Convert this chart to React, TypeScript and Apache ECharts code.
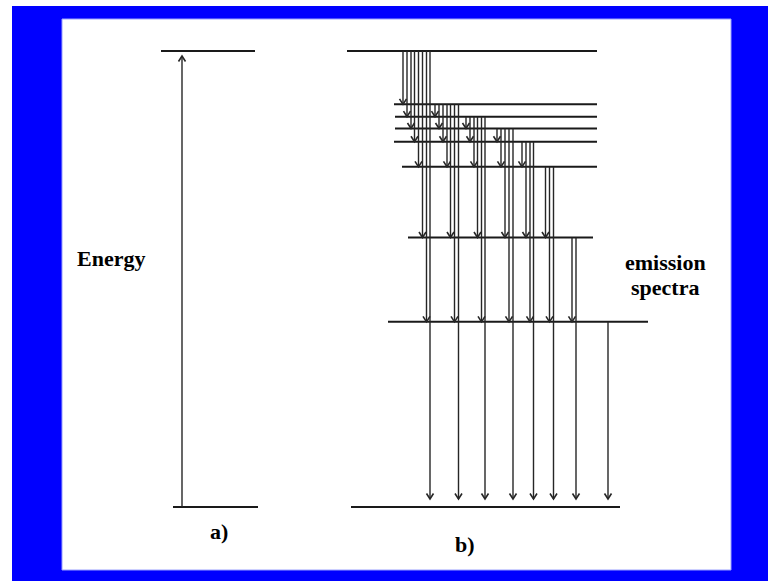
import React, { useEffect, useRef } from "react";
import * as echarts from "echarts";

// Energy levels of diagram b) (arbitrary energy units, ground = 0)
const levelEnergies = [10, 8.83, 8.56, 8.3, 8.01, 7.46, 5.91, 4.06, 0];
// Horizontal extent of each level line in b) (x position units)
const levelStartX = [347, 394, 395, 395, 394, 402, 408, 388, 351];
const levelEndX = [597, 597, 597, 597, 597, 597, 593, 648, 620];

// Diagram a): two levels and one excitation arrow
const aLevelEnergies = [10, 0];
const aLevelStartX = [161, 173];
const aLevelEndX = [255, 258];
const aArrowX = 182;

// Emission arrows: bundle i starts at level i; arrow k of it ends at level i + k + 1
const arrowX: number[][] = [
  [403, 407, 411, 414.5, 418.5, 422.5, 426.5, 430],
  [435, 439, 443, 447, 450.5, 454.5, 458.5],
  [466, 470, 474, 477.5, 481.5, 485],
  [497, 501, 505, 509, 513],
  [522, 526, 530, 533.5],
  [545.5, 549.5, 553.5],
  [572, 576],
  [608],
];

const labels = {
  energy: "Energy",
  a: "a)",
  b: "b)",
  emission: "emission",
  spectra: "spectra",
};

export default function App() {
  const ref = useRef<HTMLDivElement>(null);

  useEffect(() => {
    if (!ref.current) return;
    const chart = echarts.init(ref.current, undefined, { renderer: "svg" });

    const levelData: number[][] = [];
    levelEnergies.forEach((e, i) => levelData.push([levelStartX[i], levelEndX[i], e]));
    aLevelEnergies.forEach((e, i) => levelData.push([aLevelStartX[i], aLevelEndX[i], e]));

    const arrowData: number[][] = [];
    arrowX.forEach((bundle, i) => {
      bundle.forEach((x, k) => {
        arrowData.push([x, levelEnergies[i], levelEnergies[i + k + 1]]);
      });
    });
    arrowData.push([aArrowX, aLevelEnergies[1], aLevelEnergies[0]]);

    // text anchored at its top-left corner
    const txt = (text: string, x: number, y: number) => ({
      type: "text",
      x,
      y,
      style: {
        text,
        fill: "#000",
        fontFamily: "Liberation Serif",
        fontWeight: "bold",
        fontSize: 22,
      },
    });

    chart.setOption({
      animation: false,
      grid: { left: 0, right: 0, top: 51, bottom: 74 },
      xAxis: { type: "value", min: 0, max: 768, show: false },
      yAxis: { type: "value", min: 0, max: 10, show: false },
      graphic: [
        { type: "rect", z: -10, shape: { x: 12, y: 6, width: 756, height: 575 }, style: { fill: "#0000ff" } },
        { type: "rect", z: -9, shape: { x: 62, y: 19, width: 669, height: 551 }, style: { fill: "#ffffff", stroke: "#9aa0ff", lineWidth: 1 } },
        txt(labels.energy, 77, 247),
        txt(labels.a, 210, 520),
        txt(labels.b, 455, 533),
        txt(labels.emission, 625, 251),
        txt(labels.spectra, 631, 276),
      ],
      series: [
        {
          type: "custom",
          name: "levels",
          clip: false,
          z: 3,
          data: levelData,
          renderItem: (params: any, api: any) => {
            const p1 = api.coord([api.value(0), api.value(2)]);
            const p2 = api.coord([api.value(1), api.value(2)]);
            return {
              type: "line",
              shape: { x1: p1[0], y1: p1[1], x2: p2[0], y2: p2[1] },
              style: { stroke: "#1a1a1a", lineWidth: 2 },
            };
          },
        },
        {
          type: "custom",
          name: "transitions",
          clip: false,
          z: 4,
          data: arrowData,
          renderItem: (params: any, api: any) => {
            const x = api.value(0);
            const e1 = api.value(1);
            const e2 = api.value(2);
            const p1 = api.coord([x, e1]);
            const p2 = api.coord([x, e2]);
            const dir = p2[1] > p1[1] ? 1 : -1;
            const gap = e2 === 0 ? 8 : dir < 0 ? 5 : 0;
            const tipY = p2[1] - dir * gap;
            const hw = 3.5;
            const hl = 5.5;
            return {
              type: "group",
              children: [
                {
                  type: "line",
                  shape: { x1: p1[0], y1: p1[1], x2: p1[0], y2: tipY },
                  style: { stroke: "#262626", lineWidth: 1.4 },
                },
                {
                  type: "polyline",
                  shape: {
                    points: [
                      [p1[0] - hw, tipY - dir * hl],
                      [p1[0], tipY],
                      [p1[0] + hw, tipY - dir * hl],
                    ],
                  },
                  style: { stroke: "#262626", lineWidth: 1.6, fill: "none" },
                },
              ],
            };
          },
        },
      ],
    });

    return () => chart.dispose();
  }, []);

  return (
    <div
      ref={ref}
      style={{ position: "absolute", left: 0, top: 0, width: 768, height: 581, background: "#fff" }}
    />
  );
}
